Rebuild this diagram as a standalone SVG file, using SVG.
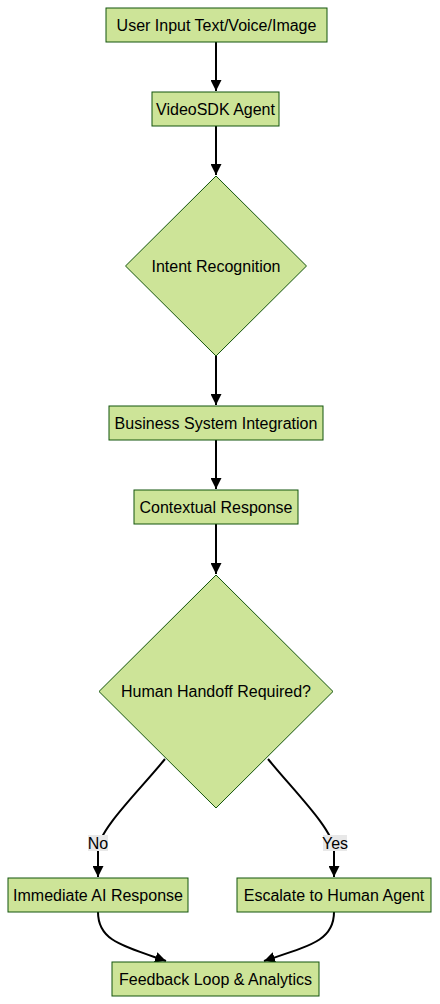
<svg xmlns="http://www.w3.org/2000/svg" width="440" height="1004" viewBox="0 0 440 1004">
<style>
.n{fill:#cde498;stroke:#13540c;stroke-width:1}
.t{font-family:"Liberation Sans",Arial,sans-serif;font-size:16px;fill:#000;text-anchor:middle;dominant-baseline:central}
.e{fill:none;stroke:#000;stroke-width:2}
.lb{fill:#e8e8e8}
</style>
<defs>
<marker id="ah" viewBox="0 0 10 10" refX="10" refY="5" markerWidth="11" markerHeight="11" markerUnits="userSpaceOnUse" orient="auto"><path d="M0,0L10,5L0,10z" fill="#000"/></marker>
</defs>
<rect width="440" height="1004" fill="#fff"/>
<g id="edges">
<path class="e" d="M216,42V91" marker-end="url(#ah)"/>
<path class="e" d="M216,126V175" marker-end="url(#ah)"/>
<path class="e" d="M216,356V405" marker-end="url(#ah)"/>
<path class="e" d="M216,440V489" marker-end="url(#ah)"/>
<path class="e" d="M216,524V574" marker-end="url(#ah)"/>
<path class="e" d="M165,759C140,790 98,830 98,850V877" marker-end="url(#ah)"/>
<path class="e" d="M268,759C293,790 334,830 334,850V877" marker-end="url(#ah)"/>
<path class="e" d="M98,912C98,940 120,945 166,961" marker-end="url(#ah)"/>
<path class="e" d="M334,912C334,940 312,945 264,961" marker-end="url(#ah)"/>
<rect class="lb" x="88" y="835" width="20" height="16"/>
<text class="t" x="98" y="843">No</text>
<rect class="lb" x="323" y="835" width="24" height="16"/>
<text class="t" x="335" y="843">Yes</text>
</g>
<g id="n1"><rect class="n" x="106" y="8" width="221" height="34"/><text class="t" x="216.5" y="25">User Input Text/Voice/Image</text></g>
<g id="n2"><rect class="n" x="152" y="92" width="127" height="34"/><text class="t" x="215.5" y="109">VideoSDK Agent</text></g>
<g id="n3"><polygon class="n" points="216,176 306.5,266 216,356 125.5,266"/><text class="t" x="216" y="266">Intent Recognition</text></g>
<g id="n4"><rect class="n" x="109" y="406" width="214" height="34"/><text class="t" x="216" y="423">Business System Integration</text></g>
<g id="n5"><rect class="n" x="134" y="490" width="164" height="34"/><text class="t" x="216" y="507">Contextual Response</text></g>
<g id="n6"><polygon class="n" points="216,575 333,691.5 216,808 99,691.5"/><text class="t" x="216" y="691">Human Handoff Required?</text></g>
<g id="n7"><rect class="n" x="8" y="878" width="180" height="34"/><text class="t" x="98" y="895">Immediate AI Response</text></g>
<g id="n8"><rect class="n" x="237" y="878" width="194" height="34"/><text class="t" x="334" y="895">Escalate to Human Agent</text></g>
<g id="n9"><rect class="n" x="112" y="962" width="207" height="34"/><text class="t" x="215.5" y="979">Feedback Loop &amp; Analytics</text></g>
</svg>
